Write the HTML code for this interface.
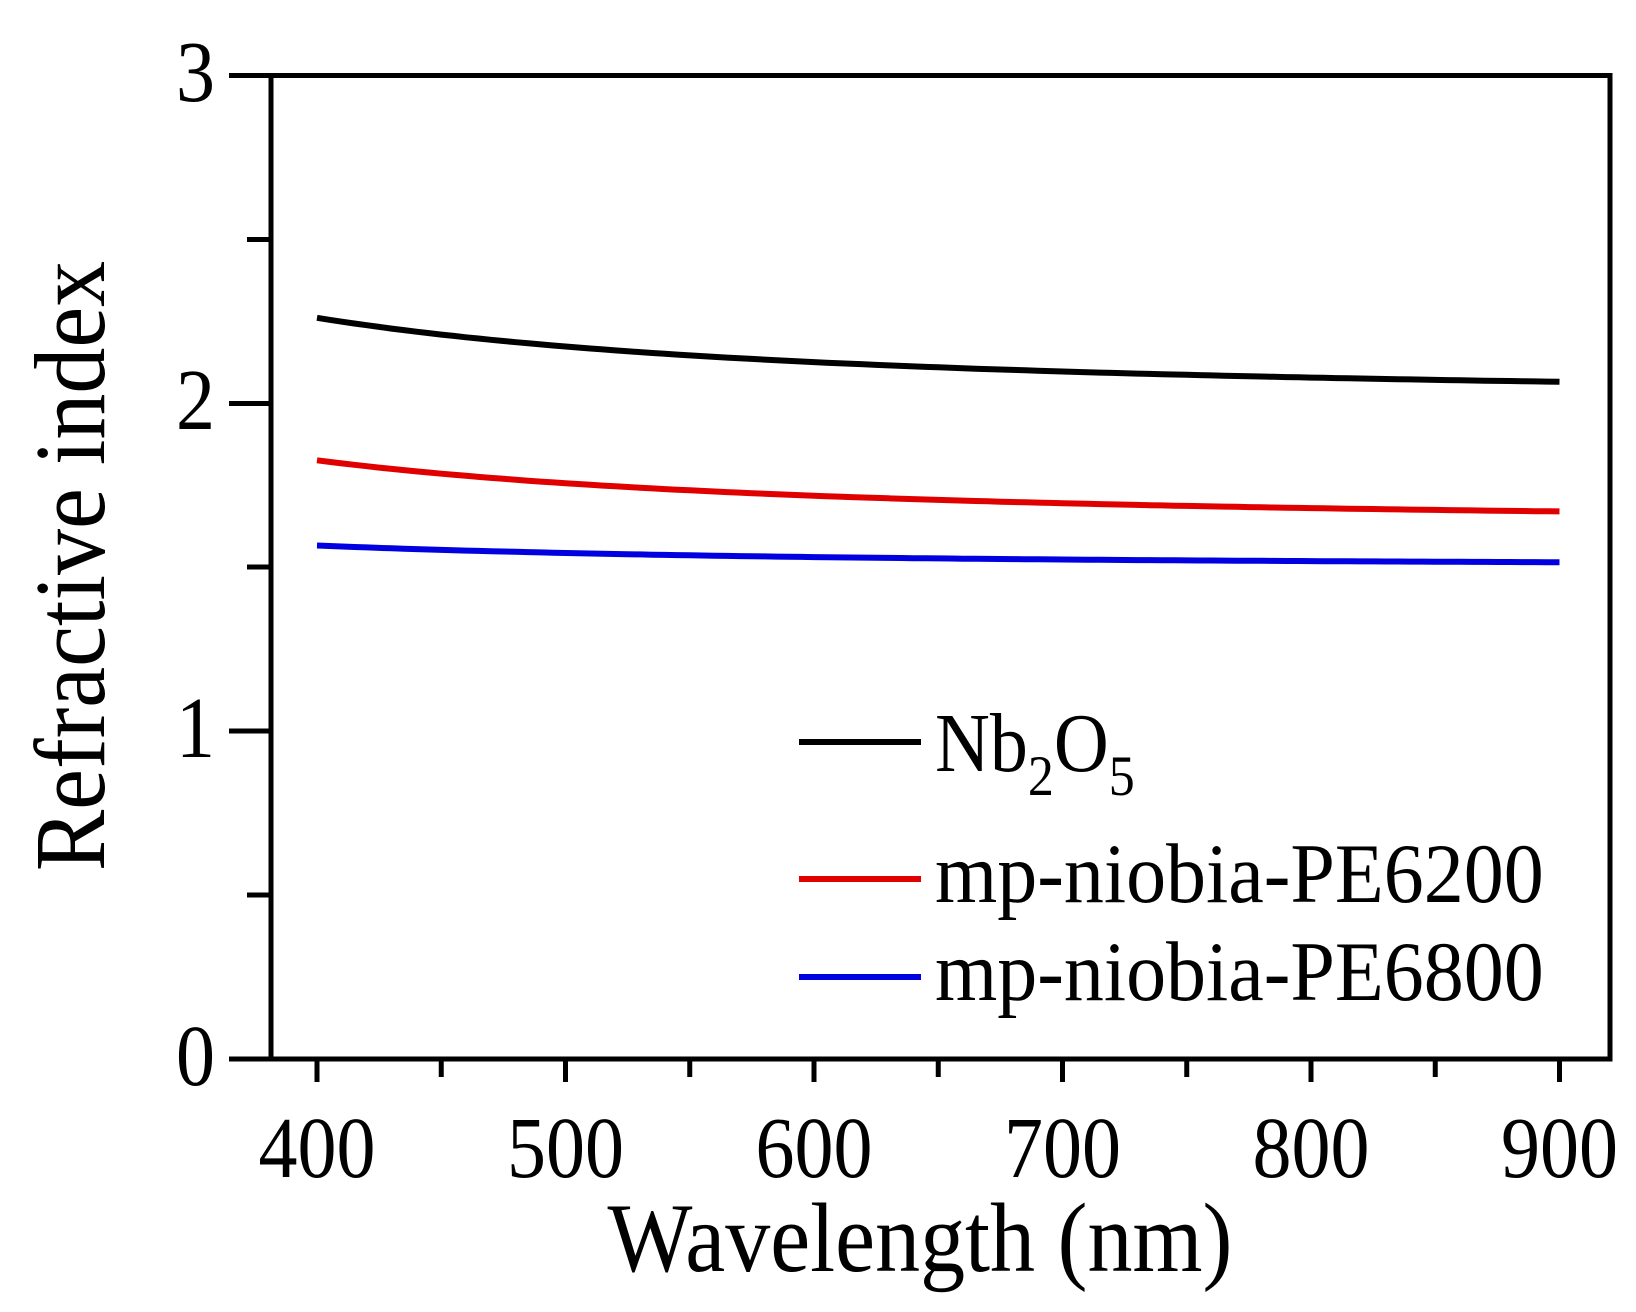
<!DOCTYPE html>
<html><head><meta charset="utf-8"><style>
html,body{margin:0;padding:0;background:#fff;}
svg{display:block;}
text{font-family:"Liberation Serif",serif;fill:#000;}
</style></head><body>
<svg id="s" width="1636" height="1312" viewBox="0 0 1636 1312" xmlns="http://www.w3.org/2000/svg">
<rect x="271" y="75.5" width="1339" height="983.5" fill="none" stroke="#000" stroke-width="5"/>
<g stroke="#000" stroke-width="5">
<line x1="229" y1="75.5" x2="271" y2="75.5"/>
<line x1="229" y1="403.5" x2="271" y2="403.5"/>
<line x1="229" y1="731" x2="271" y2="731"/>
<line x1="229" y1="1059" x2="271" y2="1059"/>
<line x1="247" y1="239.5" x2="271" y2="239.5"/>
<line x1="247" y1="567" x2="271" y2="567"/>
<line x1="247" y1="895" x2="271" y2="895"/>
</g>
<g id="xt" stroke="#000" stroke-width="5"></g>
<g font-size="78" text-anchor="end">
<text transform="translate(215,101) scale(1,1.12)">3</text>
<text transform="translate(215,429) scale(1,1.12)">2</text>
<text transform="translate(215,757) scale(1,1.12)">1</text>
<text transform="translate(215,1085) scale(1,1.12)">0</text>
</g>
<g font-size="78" text-anchor="middle">
<text transform="translate(317,1177) scale(1,1.12)">400</text>
<text transform="translate(565.5,1177) scale(1,1.12)">500</text>
<text transform="translate(814,1177) scale(1,1.12)">600</text>
<text transform="translate(1062.5,1177) scale(1,1.12)">700</text>
<text transform="translate(1311,1177) scale(1,1.12)">800</text>
<text transform="translate(1559.5,1177) scale(1,1.12)">900</text>
</g>
<text transform="translate(920,1271) scale(1,1.1)" font-size="90" text-anchor="middle">Wavelength (nm)</text>
<text transform="translate(104,566) rotate(-90) scale(1,1.1)" font-size="92" text-anchor="middle">Refractive index</text>
<g id="curves" fill="none" stroke-width="6"></g>
<g stroke-width="6">
<line x1="799" y1="742" x2="921" y2="742" stroke="#000"/>
<line x1="799" y1="879" x2="921" y2="879" stroke="#e00000"/>
<line x1="799" y1="977" x2="921" y2="977" stroke="#0000e0"/>
</g>
<g font-size="76">
<text transform="translate(935,771) scale(1,1.1)">Nb<tspan font-size="52" dy="22">2</tspan><tspan dy="-22">O</tspan><tspan font-size="52" dy="22">5</tspan></text>
</g>
<g font-size="80">
<text transform="translate(935,902) scale(1,1.06)">mp-niobia-PE6200</text>
<text transform="translate(935,1000) scale(1,1.06)">mp-niobia-PE6800</text>
</g>
</svg>
<script>
var X=function(w){return 317+(w-400)*2.485;},Y=function(n){return 1059-n*327.8;};
var xt=document.getElementById('xt'),h='';
for(var w=400;w<=900;w+=50){h+='<line x1="'+X(w)+'" y1="1059" x2="'+X(w)+'" y2="'+(w%100?1077:1082)+'"/>';}
xt.innerHTML=h;
var C=[[2.018,38885,'#000'],[1.632,31107,'#e00000'],[1.503,10170,'#0000e0']],s='';
C.forEach(function(c){var p=[];for(var w=400;w<=900;w+=5){p.push(X(w).toFixed(1)+','+Y(c[0]+c[1]/(w*w)).toFixed(1));}
s+='<polyline stroke="'+c[2]+'" points="'+p.join(' ')+'"/>';});
document.getElementById('curves').innerHTML=s;
</script>
</body></html>
